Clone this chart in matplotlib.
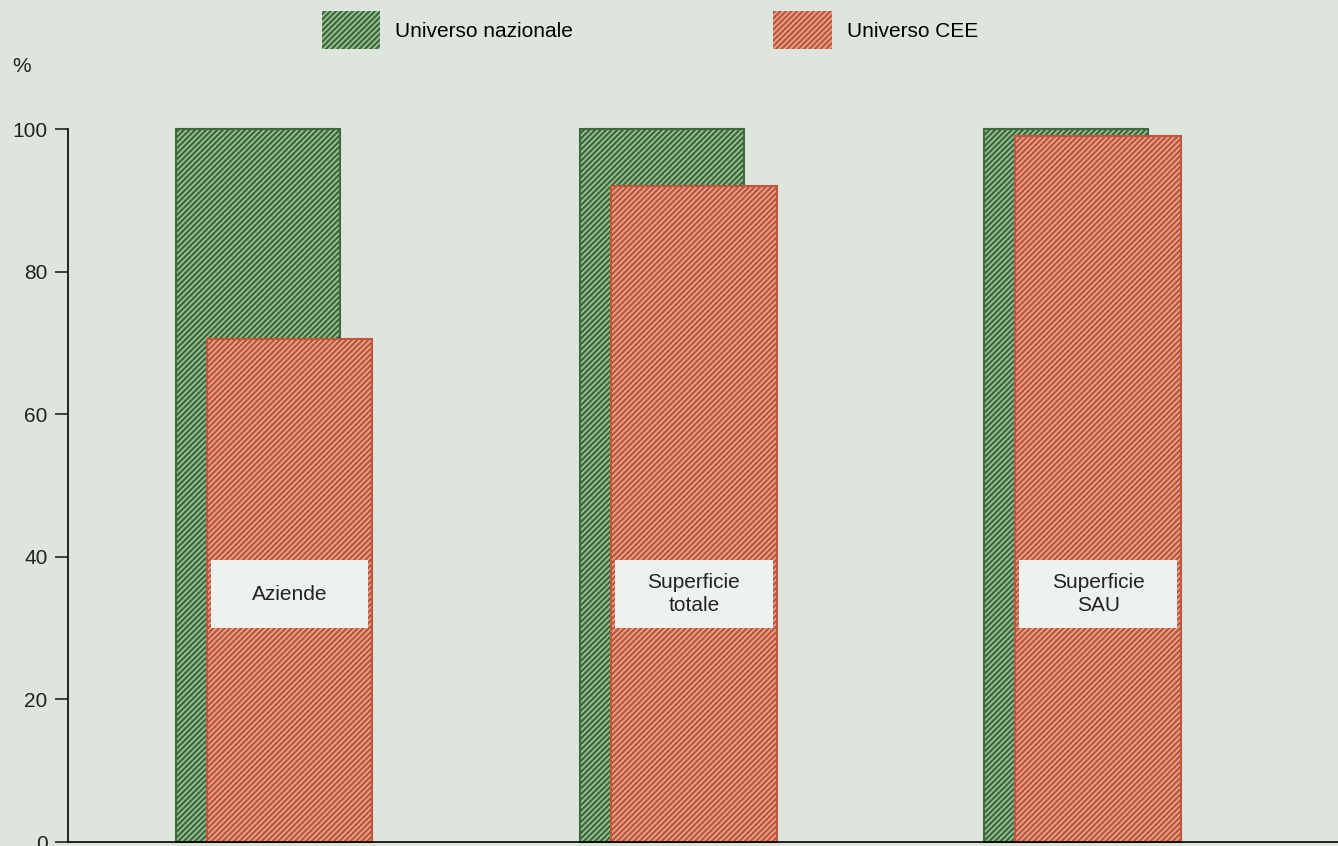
import matplotlib.pyplot as plt
from matplotlib.patches import Patch
import numpy as np

plt.rcParams['font.family'] = ['Liberation Sans', 'DejaVu Sans']
plt.rcParams['hatch.linewidth'] = 1.1

categories = ['Aziende', 'Superficie\ntotale', 'Superficie\nSAU']
nazionale = [100, 100, 100]
cee = [70.5, 92, 99]
yticks = [0, 20, 40, 60, 80, 100]
label_box = (30, 39.5)   # y-range of the white label boxes

bg = '#dde5dd'
green, green_hatch = '#3b6b3f', '#a9c8a0'
red, red_hatch = '#bf573f', '#eaac94'
hatch = '//////'

fig = plt.figure(figsize=(13.38, 8.46), dpi=100, facecolor=bg)
ax = fig.add_axes([0.0505, 0.0047, 0.9495, 0.8428])
ax.set_facecolor(bg)

x = np.arange(len(categories))
gw, rw = 0.406, 0.41
gx, rx = x - 0.04, x + 0.039

# hatched fill then outline on top
ax.bar(gx, nazionale, gw, color=green, edgecolor=green_hatch, hatch=hatch, linewidth=0, clip_on=False)
ax.bar(gx, nazionale, gw, fill=False, edgecolor=green, linewidth=1.5, clip_on=False)
ax.bar(rx, cee, rw, color=red, edgecolor=red_hatch, hatch=hatch, linewidth=0, clip_on=False)
ax.bar(rx, cee, rw, fill=False, edgecolor=red, linewidth=1.5, clip_on=False)

# white label boxes with category names
ax.bar(rx, label_box[1] - label_box[0], rw * 0.95, bottom=label_box[0], color='#eef2ee', linewidth=0)
for xi, name in zip(rx, categories):
    ax.text(xi, sum(label_box) / 2, name, ha='center', va='center', fontsize=15,
            color='#222222', linespacing=1.25)

ax.set_xlim(-0.51, 2.632)
ax.set_ylim(0, 100)
ax.set_yticks(yticks)
ax.set_xticks([])
ax.tick_params(axis='y', labelsize=15, length=9.5, width=1.2, pad=5, colors='#222222')
for s in ['top', 'right']:
    ax.spines[s].set_visible(False)
ax.spines['left'].set_linewidth(1.2)
ax.spines['bottom'].set_linewidth(1.2)

fig.text(0.009, 0.915, '%', fontsize=15, color='#222222')

handles = [Patch(facecolor=green, edgecolor=green_hatch, hatch=hatch, linewidth=0),
           Patch(facecolor=red, edgecolor=red_hatch, hatch=hatch, linewidth=0)]
leg = fig.legend(handles, ['Universo nazionale', 'Universo CEE'], loc='upper left',
                 bbox_to_anchor=(0.2267, 1.009), ncol=2, frameon=False, fontsize=15,
                 handlelength=2.8, handleheight=2.43, columnspacing=9.6, handletextpad=0.72)

fig.savefig('out.png', dpi=100, facecolor=bg)
